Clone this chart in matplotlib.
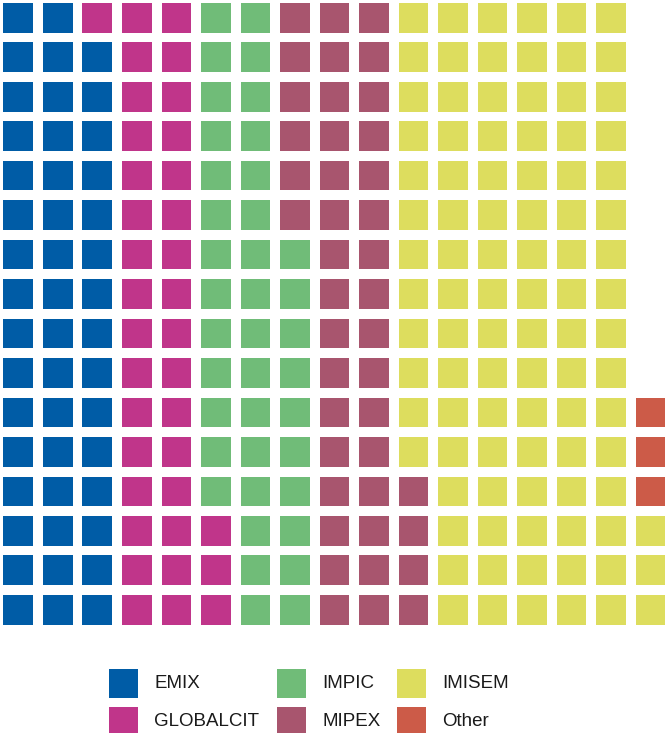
import matplotlib
matplotlib.use('Agg')
import matplotlib.pyplot as plt
from matplotlib.patches import Rectangle

# 数据
categories = ['EMIX', 'GLOBALCIT', 'IMPIC', 'MIPEX', 'IMISEM', 'Other']
counts = [47, 36, 39, 42, 95, 3]
colors = ['#005ca6', '#c0358a', '#70bc78', '#a8556e', '#dddd5e', '#cc5b48']

n_rows = 16
n_cols = 17
size = 0.75  # 方块占格子比例

plt.rcParams['font.family'] = ['Liberation Sans', 'DejaVu Sans']

W, H = 665, 733
fig = plt.figure(figsize=(W / 100, H / 100), dpi=100)

# 华夫图主体 (按列, 自下而上填充)
ax = fig.add_axes([3.4 / W, 108.5 / H, 662.1 / W, 621.5 / H])
k = 0
for cat, n, c in zip(categories, counts, colors):
    for _ in range(n):
        col = k // n_rows
        row = k % n_rows
        ax.add_patch(Rectangle((col, row), size, size, facecolor=c, edgecolor='none'))
        k += 1
ax.set_xlim(0, n_cols - 1 + size)
ax.set_ylim(0, n_rows - 1 + size)
ax.axis('off')

# 图例
leg = fig.add_axes([0, 0, 1, 1])
leg.set_xlim(0, W)
leg.set_ylim(H, 0)
leg.axis('off')
box_x = [108.5, 276.7, 396.5]
text_x = [154, 322, 442]
box_y = [669, 707]
text_y = [684, 722]
for i, (cat, c) in enumerate(zip(categories, colors)):
    ci, ri = i // 2, i % 2
    leg.add_patch(Rectangle((box_x[ci], box_y[ri]), 29, 29, facecolor=c, edgecolor='none'))
    leg.text(text_x[ci], text_y[ri], cat, fontsize=13.5, color='#1a1a1a', va='center', ha='left')

fig.savefig('out.png', dpi=100)
